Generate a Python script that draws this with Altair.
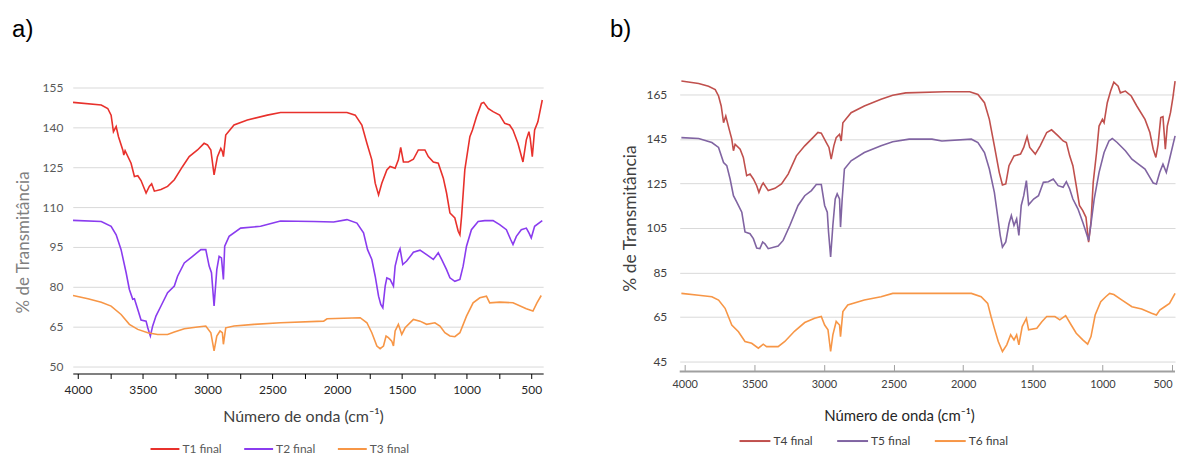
import altair as alt
import pandas as pd

FONT = "Lato"

# ---------------- panel a data (wavenumber cm-1, % transmittance) ----------------
t1_x = [4038, 3820, 3770, 3744, 3726, 3705, 3687, 3654, 3646, 3636, 3590, 3564, 3538, 3513, 3474, 3449, 3431,
        3410, 3359, 3308, 3256, 3192, 3141, 3077, 3026, 3000, 2974, 2949, 2923, 2897, 2885, 2877, 2859, 2795,
        2692, 2538, 2436, 1923, 1859, 1808, 1769, 1731, 1705, 1679, 1654, 1615, 1590, 1551, 1526, 1508, 1487,
        1449, 1410, 1372, 1321, 1295, 1256, 1218, 1179, 1154, 1128, 1090, 1064, 1051, 1038, 1013, 974, 954, 923,
        885, 867, 833, 795, 744, 705, 667, 641, 603, 564, 538, 518, 508, 492, 474, 449, 415]
t1_y = [149.4, 148.4, 147.1, 144.6, 138.4, 140.3, 136.5, 131.5, 129.6, 131.2, 126.5, 121.5, 121.8, 120.0, 115.3,
        117.8, 118.8, 116.0, 116.6, 117.8, 120.3, 125.3, 129.0, 131.5, 134.0, 133.4, 131.5, 122.1, 129.0, 132.1,
        130.9, 129.0, 137.1, 140.9, 142.8, 144.6, 145.6, 145.6, 144.6, 140.9, 134.0, 127.8, 119.0, 114.6, 119.0,
        124.0, 125.3, 124.6, 127.8, 132.5, 127.0, 127.0, 128.0, 131.5, 131.5, 129.0, 127.0, 126.5, 120.9, 115.3,
        107.8, 105.9, 100.9, 99.6, 106.5, 124.0, 136.5, 139.0, 144.0, 149.0, 149.4, 147.1, 145.9, 144.6, 141.5,
        140.9, 139.0, 134.0, 127.0, 135.3, 138.4, 135.9, 129.0, 139.0, 142.1, 150.3]

t2_x = [4038, 3820, 3744, 3705, 3667, 3628, 3603, 3577, 3564, 3538, 3513, 3474, 3461, 3441, 3423, 3397, 3359,
        3308, 3256, 3231, 3179, 3115, 3051, 3013, 2987, 2969, 2949, 2928, 2910, 2892, 2877, 2867, 2833, 2744,
        2590, 2436, 2179, 2026, 1923, 1846, 1795, 1764, 1731, 1705, 1679, 1662, 1646, 1628, 1615, 1590, 1564,
        1551, 1526, 1513, 1492, 1462, 1410, 1359, 1308, 1256, 1218, 1192, 1154, 1128, 1090, 1051, 1026, 1000,
        962, 910, 859, 795, 744, 692, 659, 641, 615, 577, 538, 518, 500, 474, 415]
t2_y = [105.0, 104.6, 102.8, 99.6, 94.0, 85.3, 79.0, 75.3, 75.5, 71.5, 67.5, 67.1, 64.6, 61.5, 65.3, 69.1, 72.8,
        77.8, 80.3, 84.0, 89.0, 91.5, 94.0, 94.0, 87.8, 85.3, 72.8, 86.5, 91.5, 90.9, 82.8, 95.3, 99.0, 102.1,
        102.8, 104.8, 104.6, 104.4, 105.3, 104.0, 100.3, 94.0, 90.3, 84.0, 76.5, 73.4, 72.1, 80.3, 83.4, 82.8,
        80.3, 87.8, 92.8, 94.3, 88.4, 89.7, 93.0, 93.8, 92.1, 90.3, 92.8, 90.3, 86.5, 83.4, 82.1, 82.8, 87.8,
        95.3, 101.5, 104.6, 104.9, 104.9, 103.4, 101.5, 97.8, 95.9, 99.0, 101.5, 102.1, 100.3, 98.4, 102.8, 104.9]

t3_x = [4038, 3923, 3820, 3744, 3667, 3603, 3538, 3461, 3385, 3308, 3256, 3179, 3077, 3013, 2974, 2949, 2928,
        2903, 2885, 2877, 2859, 2795, 2641, 2436, 2103, 2077, 1821, 1769, 1731, 1692, 1667, 1641, 1621, 1603,
        1577, 1564, 1551, 1526, 1500, 1474, 1410, 1359, 1308, 1244, 1205, 1167, 1128, 1090, 1051, 1000, 949,
        897, 846, 821, 744, 641, 538, 487, 456, 423]
t3_y = [76.75, 75.5, 74.25, 72.75, 69.6, 65.9, 64.0, 62.75, 62.1, 62.1, 63.0, 64.25, 64.9, 65.25, 62.75, 55.9,
        61.5, 63.4, 62.75, 58.4, 64.6, 65.25, 65.9, 66.5, 67.1, 68.0, 68.4, 66.5, 62.75, 57.75, 56.75, 57.75,
        61.5, 60.9, 59.6, 57.75, 63.4, 65.9, 62.1, 64.6, 67.75, 67.1, 65.9, 66.5, 65.25, 62.75, 61.5, 61.25,
        62.75, 69.0, 74.0, 75.9, 76.5, 74.0, 74.25, 74.0, 71.75, 70.9, 74.0, 76.75]

# ---------------- panel b data ----------------
t4_x = [4024, 3900, 3829, 3781, 3757, 3738, 3721, 3705, 3681, 3662, 3650, 3638, 3602, 3579, 3555, 3531, 3507,
        3483, 3467, 3448, 3436, 3400, 3352, 3305, 3257, 3198, 3138, 3079, 3043, 3019, 2983, 2964, 2948, 2929,
        2912, 2888, 2876, 2864, 2805, 2710, 2590, 2506, 2412, 2129, 1953, 1894, 1847, 1812, 1776, 1741, 1718,
        1694, 1671, 1635, 1588, 1565, 1541, 1522, 1482, 1447, 1400, 1365, 1318, 1282, 1259, 1235, 1212, 1188,
        1165, 1141, 1118, 1099, 1082, 1066, 1042, 1024, 1000, 988, 965, 941, 918, 887, 871, 835, 793, 753, 694,
        659, 635, 616, 600, 581, 565, 548, 534, 511, 494, 478]
t4_y = [171.0, 169.9, 168.7, 167.2, 164.3, 159.8, 152.3, 155.3, 149.4, 144.9, 139.7, 142.6, 140.4, 136.7, 128.5,
        129.2, 127.0, 124.0, 121.0, 124.0, 125.2, 121.8, 122.8, 124.8, 129.2, 137.4, 141.9, 145.6, 147.9, 147.6,
        143.4, 141.2, 135.9, 141.9, 145.6, 147.1, 144.1, 152.3, 156.8, 159.8, 162.8, 164.6, 165.7, 166.2, 166.2,
        165.0, 161.3, 153.8, 141.9, 130.0, 124.3, 124.8, 133.0, 137.4, 138.2, 141.2, 146.1, 141.2, 138.2, 141.9,
        147.9, 149.1, 146.4, 144.1, 143.4, 137.4, 133.0, 124.0, 115.1, 112.8, 109.8, 98.6, 107.6, 125.5, 138.9,
        150.8, 153.8, 152.3, 161.3, 166.5, 170.5, 168.7, 165.7, 166.5, 164.3, 159.8, 153.8, 147.9, 140.4, 136.7,
        142.6, 154.6, 155.0, 140.4, 150.8, 156.8, 163.5, 171.0]

t5_x = [4024, 3900, 3805, 3757, 3721, 3698, 3674, 3650, 3626, 3590, 3567, 3531, 3507, 3483, 3460, 3440, 3424,
        3400, 3329, 3293, 3245, 3186, 3138, 3090, 3055, 3019, 2995, 2976, 2967, 2952, 2936, 2919, 2905, 2888,
        2881, 2869, 2853, 2805, 2710, 2590, 2506, 2388, 2224, 2153, 1941, 1894, 1847, 1812, 1776, 1753, 1734,
        1718, 1694, 1671, 1654, 1635, 1616, 1600, 1583, 1565, 1546, 1530, 1494, 1459, 1424, 1388, 1353, 1318,
        1282, 1259, 1235, 1212, 1176, 1141, 1118, 1099, 1082, 1059, 1024, 988, 953, 929, 894, 835, 788, 741,
        694, 659, 635, 612, 588, 565, 541, 518, 478]
t5_y = [145.6, 145.2, 143.4, 141.2, 134.4, 133.0, 127.0, 119.5, 116.6, 112.1, 103.2, 102.4, 100.2, 96.0, 95.7,
        98.7, 97.9, 95.7, 96.9, 99.4, 106.1, 115.1, 119.5, 121.8, 124.5, 124.5, 115.1, 112.1, 103.2, 92.0, 106.1,
        118.0, 120.3, 118.0, 105.4, 118.0, 131.5, 135.2, 138.9, 141.9, 143.7, 144.9, 144.9, 144.1, 144.9, 143.4,
        138.9, 131.5, 121.0, 110.6, 101.7, 96.4, 98.7, 106.9, 110.6, 106.1, 109.1, 101.7, 115.1, 119.5, 126.3,
        115.4, 118.0, 119.5, 125.5, 125.8, 127.0, 124.0, 123.3, 125.8, 122.5, 118.0, 113.6, 107.6, 103.2, 99.4,
        106.9, 118.0, 130.0, 138.9, 144.1, 145.2, 143.4, 139.7, 135.9, 133.7, 131.5, 127.7, 125.2, 124.8, 130.0,
        133.7, 130.0, 135.9, 146.4]

t6_x = [4024, 3900, 3805, 3757, 3710, 3662, 3614, 3567, 3519, 3471, 3436, 3412, 3329, 3281, 3210, 3138, 3067,
        3019, 2995, 2971, 2952, 2936, 2912, 2888, 2881, 2864, 2829, 2710, 2590, 2506, 1941, 1871, 1824, 1800,
        1776, 1748, 1718, 1687, 1659, 1635, 1616, 1600, 1576, 1546, 1530, 1471, 1435, 1400, 1341, 1306, 1264,
        1224, 1188, 1141, 1106, 1082, 1052, 1012, 976, 948, 918, 859, 788, 718, 647, 612, 588, 553, 518, 478]
t6_y = [75.6, 74.8, 74.1, 72.6, 68.9, 61.4, 58.4, 54.0, 53.2, 51.0, 52.8, 51.7, 51.7, 54.0, 58.7, 62.5, 64.4,
        65.2, 61.4, 59.2, 49.5, 57.0, 63.0, 61.4, 56.2, 67.4, 70.4, 72.6, 74.1, 75.6, 75.6, 74.1, 71.1, 65.2,
        59.9, 54.0, 49.5, 52.5, 57.0, 54.7, 57.0, 52.5, 60.7, 64.4, 59.2, 59.9, 62.9, 65.2, 65.2, 63.7, 65.6,
        61.4, 57.7, 54.7, 52.8, 56.2, 65.9, 71.9, 74.1, 75.6, 75.1, 72.6, 69.6, 68.6, 66.7, 65.9, 68.1, 69.6,
        71.1, 75.6]

series_a = ["T1 final", "T2 final", "T3 final"]
colors_a = ["#e8312c", "#8a3cef", "#f79646"]
series_b = ["T4 final", "T5 final", "T6 final"]
colors_b = ["#c0504d", "#8064a2", "#f79646"]

xticks_a = list(range(4000, 499, -250))
yticks_a = [50, 65, 80, 95, 110, 125, 140, 155]
xticks_b = list(range(4000, 499, -500))
yticks_b = [45, 65, 85, 105, 125, 145, 165]

xdom_a = [408, 4040]
ydom_a = [47.4, 158]
xdom_b = [478.5, 4036]
ydom_b = [40.5, 171.7]

X_TITLE = "Número de onda (cm⁻¹)"
Y_TITLE = "% de Transmitância"


def frame(items):
    rows = []
    for name, xs, ys in items:
        for i, (xv, yv) in enumerate(zip(xs, ys)):
            rows.append({"serie": name, "x": xv, "y": yv, "i": i})
    return pd.DataFrame(rows)


df_a = frame([(series_a[0], t1_x, t1_y), (series_a[1], t2_x, t2_y), (series_a[2], t3_x, t3_y)])
df_b = frame([(series_b[0], t4_x, t4_y), (series_b[1], t5_x, t5_y), (series_b[2], t6_x, t6_y)])

# ---------------- panel a ----------------
xa = alt.X("x:Q", scale=alt.Scale(domain=xdom_a, reverse=True, nice=False, zero=False),
           axis=alt.Axis(values=xticks_a, format="d",
                         labelExpr="datum.value % 500 == 0 ? datum.label : ''",
                         grid=False, domainColor="#000000", domainWidth=1,
                         tickColor="#000000", tickSize=5, tickWidth=1,
                         labelColor="#262626", labelFont=FONT, labelFontSize=12, labelPadding=6,
                         title=X_TITLE, titleFont=FONT, titleFontSize=16, titleFontWeight="normal",
                         titleColor="#404040", titlePadding=13, titleX=231, titleAlign="center"))
ya = alt.Y("y:Q", scale=alt.Scale(domain=ydom_a, nice=False, zero=False),
           axis=alt.Axis(values=yticks_a, grid=True, gridColor="#d9d9d9", gridWidth=1,
                         domain=False, ticks=False, labelPadding=10,
                         labelColor="#595959", labelFont=FONT, labelFontSize=12,
                         title=Y_TITLE, titleFont=FONT, titleFontSize=17, titleFontWeight="normal",
                         titleColor="#808080", titlePadding=10, titleY=163))

panel_a = alt.Chart(df_a).mark_line(strokeWidth=1.6).encode(
    x=xa, y=ya,
    color=alt.Color("serie:N", scale=alt.Scale(domain=series_a, range=colors_a),
                    legend=alt.Legend(title=None, orient="none", legendX=77, legendY=355,
                                      direction="horizontal", symbolType="stroke", symbolSize=841,
                                      symbolStrokeWidth=2, labelFont=FONT, labelFontSize=12,
                                      labelColor="#595959", columnPadding=18, padding=0, labelOffset=2)),
    order="i:Q",
).properties(
    width=472, height=295,
    title=alt.TitleParams("a)", anchor="start", frame="bounds", font="Liberation Sans", fontSize=24,
                          fontWeight="normal", color="#000000", offset=38, dx=-2),
)

# ---------------- panel b ----------------
xb = alt.X("x:Q", scale=alt.Scale(domain=xdom_b, reverse=True, nice=False, zero=False),
           axis=alt.Axis(values=xticks_b, format="d", grid=False, domain=False, offset=-7,
                         tickColor="#a0a0a0", tickSize=7, tickWidth=1, labelFlush=4,
                         labelColor="#404040", labelFont=FONT, labelFontSize=11, labelPadding=7,
                         title=X_TITLE, titleFont=FONT, titleFontSize=15, titleFontWeight="normal",
                         titleColor="#262626", titlePadding=19, titleX=220, titleAlign="center"))
yb = alt.Y("y:Q", scale=alt.Scale(domain=ydom_b, nice=False, zero=False),
           axis=alt.Axis(values=yticks_b, grid=True, gridColor="#d9d9d9", gridWidth=1,
                         domain=False, ticks=False, labelPadding=13,
                         labelColor="#404040", labelFont=FONT, labelFontSize=12,
                         title=Y_TITLE, titleFont=FONT, titleFontSize=17.5, titleFontWeight="normal",
                         titleColor="#404040", titlePadding=6, titleY=139))

lines_b = alt.Chart(df_b).mark_line(strokeWidth=1.6).encode(
    x=xb, y=yb,
    color=alt.Color("serie:N", scale=alt.Scale(domain=series_b, range=colors_b),
                    legend=alt.Legend(title=None, orient="none", legendX=59, legendY=346,
                                      direction="horizontal", symbolType="stroke", symbolSize=961,
                                      symbolStrokeWidth=2, labelFont=FONT, labelFontSize=12,
                                      labelColor="#404040", columnPadding=20, padding=0, labelOffset=2)),
    order="i:Q",
)
baseline_b = alt.Chart(pd.DataFrame({"x0": [xdom_b[1]], "x1": [xdom_b[0]], "y0": [ydom_b[0]]})).mark_rule(
    color="#a0a0a0", strokeWidth=2).encode(x="x0:Q", x2="x1:Q", y="y0:Q")

panel_b = alt.layer(lines_b, baseline_b).properties(
    width=497, height=293,
    title=alt.TitleParams("b)", anchor="start", frame="bounds", font="Liberation Sans", fontSize=24,
                          fontWeight="normal", color="#000000", offset=36, dx=-12),
)

chart = alt.hconcat(panel_a, panel_b, spacing=137, bounds="flush").resolve_scale(
    color="independent", x="independent", y="independent"
).properties(
    padding={"left": 4, "top": 9, "right": 0, "bottom": 0},
    background="#ffffff",
).configure_view(stroke=None)

chart.save("out.html", embed_options={"renderer": "svg", "actions": False})
